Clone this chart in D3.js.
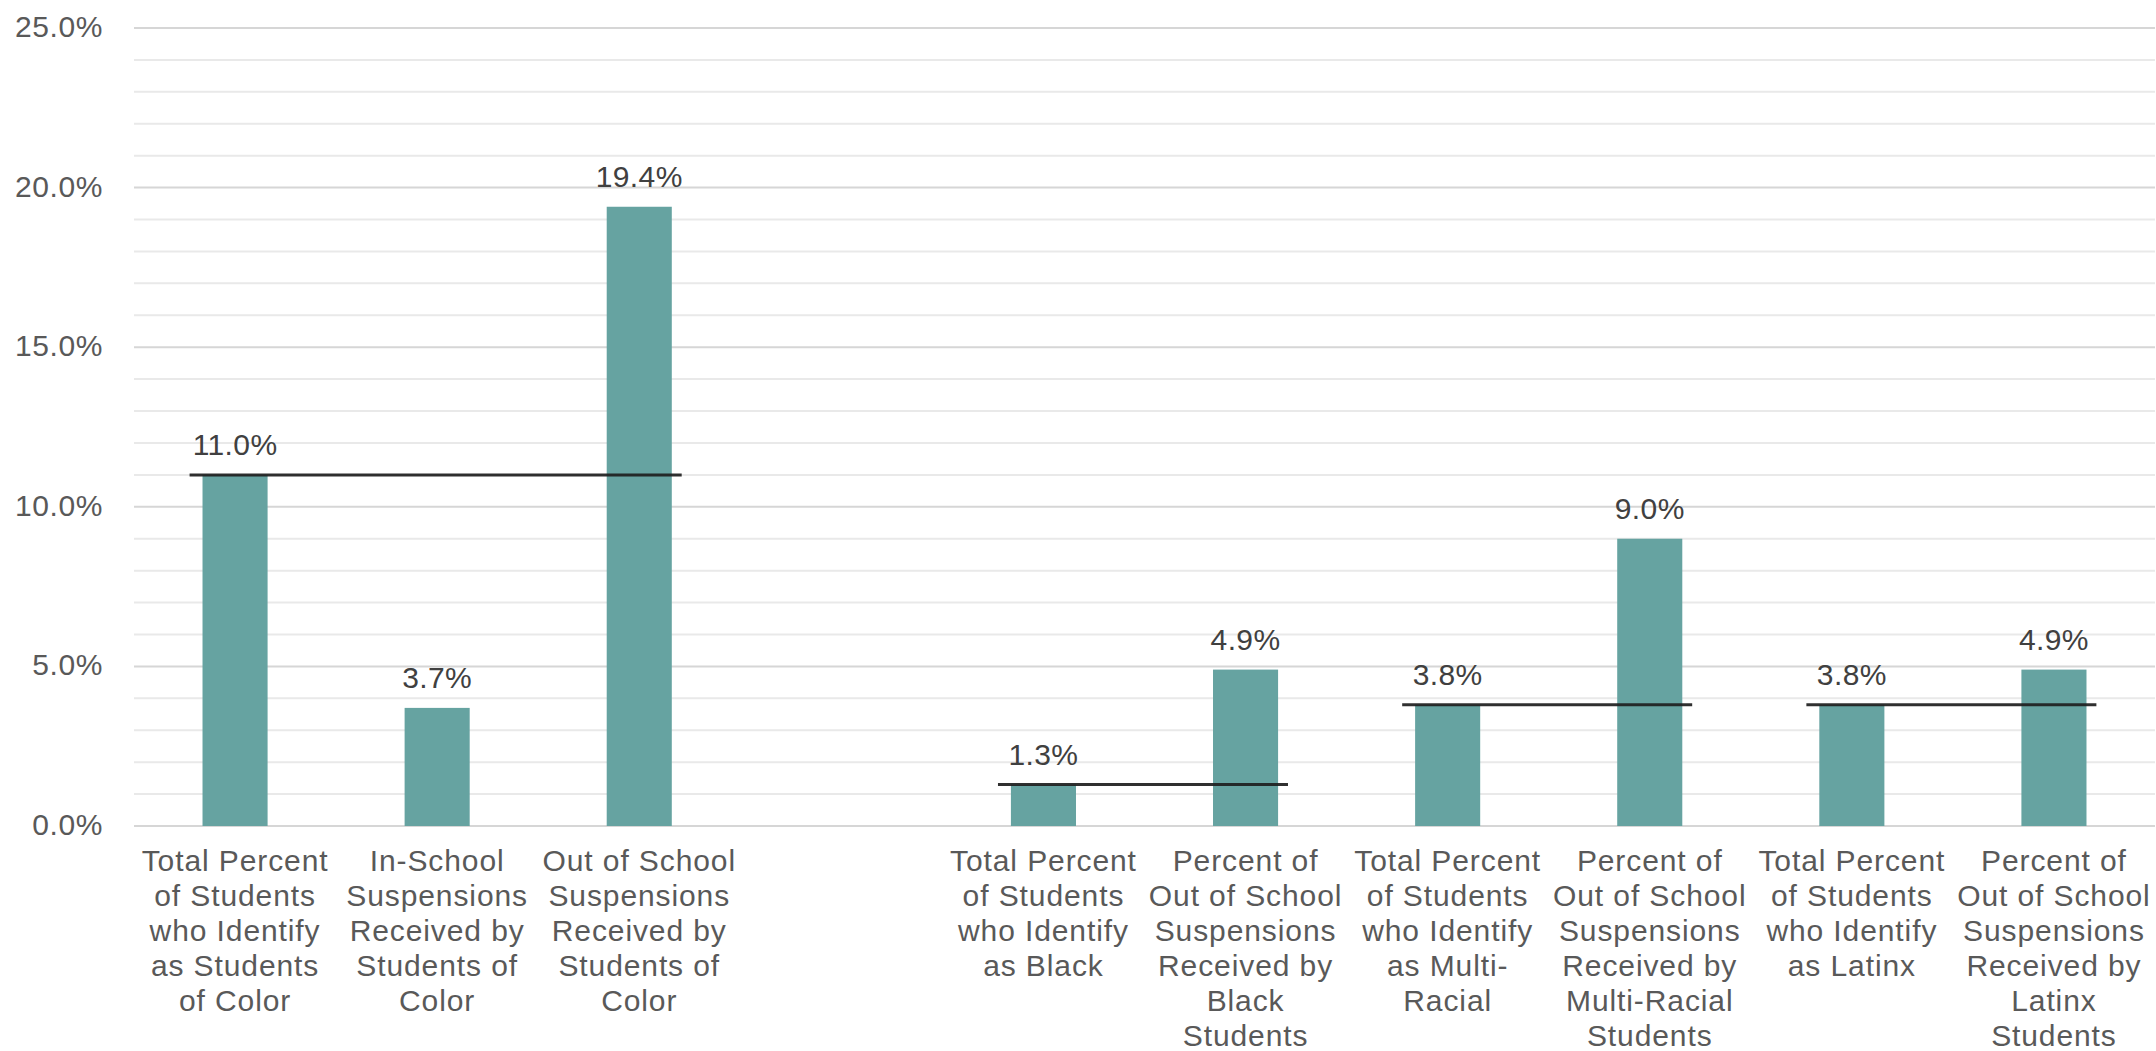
<!DOCTYPE html>
<html>
<head>
<meta charset="utf-8">
<script src="https://cdn.jsdelivr.net/npm/d3@7"></script>
<style>
  html, body { margin: 0; padding: 0; background: #ffffff; }
  svg { display: block; }
  text { font-family: "Liberation Sans", Arial, sans-serif; }
</style>
</head>
<body>
<svg id="chart" width="2156" height="1051"></svg>
<script>
// Category slots (slot "gap" is left empty to separate the two groups)
const categories = ["soc", "iss_soc", "oss_soc", "gap", "black", "oss_black", "multi", "oss_multi", "latinx", "oss_latinx"];

// Multi-line category labels, one array of lines per slot
const categoryLabels = [
  ["Total Percent", "of Students", "who Identify", "as Students", "of Color"],
  ["In-School", "Suspensions", "Received by", "Students of", "Color"],
  ["Out of School", "Suspensions", "Received by", "Students of", "Color"],
  [],
  ["Total Percent", "of Students", "who Identify", "as Black"],
  ["Percent of", "Out of School", "Suspensions", "Received by", "Black", "Students"],
  ["Total Percent", "of Students", "who Identify", "as Multi-", "Racial"],
  ["Percent of", "Out of School", "Suspensions", "Received by", "Multi-Racial", "Students"],
  ["Total Percent", "of Students", "who Identify", "as Latinx"],
  ["Percent of", "Out of School", "Suspensions", "Received by", "Latinx", "Students"]
];

// Bar values in percent (null = empty slot)
const values = [11.0, 3.7, 19.4, null, 1.3, 4.9, 3.8, 9.0, 3.8, 4.9];

// Enrollment reference lines: spans from one slot to another at the enrollment share
const refFrom = ["soc", "black", "multi", "latinx"];
const refTo = ["oss_soc", "oss_black", "oss_multi", "oss_latinx"];
const refValues = [11.0, 1.3, 3.8, 3.8];

// Y axis ticks
const yTicks = [0, 5, 10, 15, 20, 25];
const yMinorTicks = d3.range(0, 26, 1);

const svg = d3.select("#chart");
const plotLeft = 134, plotRight = 2155, plotTop = 28, plotBottom = 826;

const x = d3.scaleBand()
  .domain(categories)
  .range([plotLeft, plotRight])
  .paddingInner(0.678)
  .paddingOuter(0.339);

const y = d3.scaleLinear().domain([0, 25]).range([plotBottom, plotTop]);

const fmt = v => v.toFixed(1) + "%";

// Gridlines: light minor lines every 1%, slightly darker at each 5%
svg.append("g")
  .selectAll("line")
  .data(yMinorTicks)
  .join("line")
  .attr("x1", plotLeft).attr("x2", plotRight)
  .attr("y1", d => y(d)).attr("y2", d => y(d))
  .attr("stroke", d => d % 5 === 0 ? "#d6d6d6" : "#e9e9e9")
  .attr("stroke-width", 2);

// Y axis labels
const yAxis = svg.append("g")
  .attr("transform", `translate(${plotLeft},0)`)
  .call(d3.axisLeft(y).tickValues(yTicks).tickFormat(fmt).tickSize(0).tickPadding(31));
yAxis.select(".domain").remove();
yAxis.selectAll("text")
  .attr("font-size", 30)
  .attr("letter-spacing", "0.6px")
  .attr("fill", "#595959")
  .attr("dy", "0.28em");

// Bars
const barData = categories.map((c, i) => ({ key: c, value: values[i] })).filter(d => d.value !== null);
svg.append("g")
  .selectAll("rect")
  .data(barData)
  .join("rect")
  .attr("x", d => x(d.key))
  .attr("width", x.bandwidth())
  .attr("y", d => y(d.value))
  .attr("height", d => y(0) - y(d.value))
  .attr("fill", "#66a3a1");

// Reference lines
const step = x.step();
const center = k => x(k) + x.bandwidth() / 2;
svg.append("g")
  .selectAll("line")
  .data(refValues.map((v, i) => ({ from: refFrom[i], to: refTo[i], value: v })))
  .join("line")
  .attr("x1", d => center(d.from) - 0.225 * step)
  .attr("x2", d => center(d.to) + 0.21 * step)
  .attr("y1", d => y(d.value))
  .attr("y2", d => y(d.value))
  .attr("stroke", "#1e1e1e")
  .attr("stroke-opacity", 0.92)
  .attr("stroke-width", 3);

// Value labels above bars
svg.append("g")
  .selectAll("text")
  .data(barData)
  .join("text")
  .attr("x", d => center(d.key))
  .attr("y", d => y(d.value) - 20)
  .attr("text-anchor", "middle")
  .attr("font-size", 30)
  .attr("letter-spacing", "0.4px")
  .attr("fill", "#404040")
  .text(d => fmt(d.value));

// Category axis with wrapped labels
const xAxis = svg.append("g")
  .attr("transform", `translate(0,${plotBottom})`)
  .call(d3.axisBottom(x).tickSize(0).tickFormat(""));
xAxis.select(".domain").remove();
xAxis.selectAll(".tick text").remove();
xAxis.selectAll(".tick")
  .append("text")
  .attr("text-anchor", "middle")
  .attr("font-size", 30)
  .attr("fill", "#595959")
  .attr("letter-spacing", "0.9px")
  .each(function (d, i) {
    const t = d3.select(this);
    categoryLabels[i].forEach((line, j) => {
      t.append("tspan")
        .attr("x", 0)
        .attr("y", 45 + j * 35)
        .text(line);
    });
  });
</script>
</body>
</html>
